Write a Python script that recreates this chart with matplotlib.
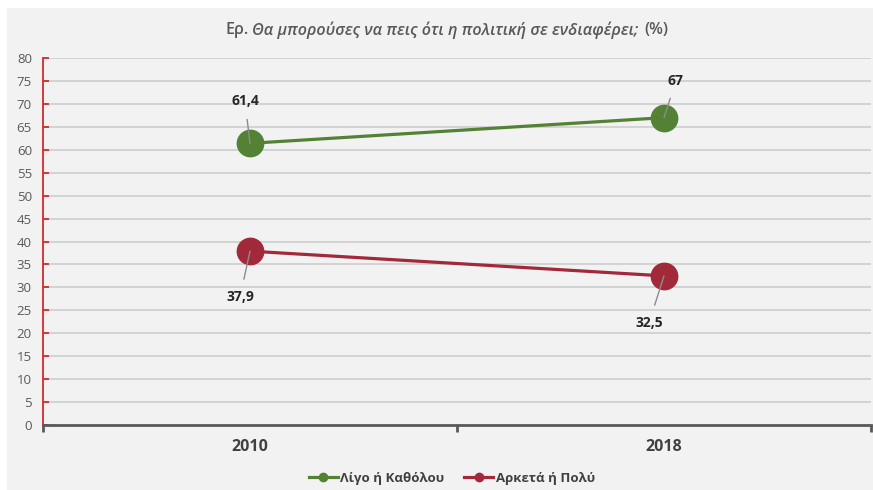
import matplotlib
matplotlib.use("Agg")
import matplotlib.pyplot as plt
from matplotlib.patches import Rectangle

plt.rcParams['font.family'] = ['Open Sans', 'DejaVu Sans']

years = ['2010', '2018']
ligo = [61.4, 67]
arketa = [37.9, 32.5]
ligo_lbl = ['61,4', '67']
arketa_lbl = ['37,9', '32,5']
series_names = ['Λίγο ή Καθόλου', 'Αρκετά ή Πολύ']

green = '#548235'
red = '#a2293a'
txt = '#595959'

W, H = 873, 490
fig = plt.figure(figsize=(W / 100, H / 100), dpi=100)
fig.patch.set_facecolor('white')
fig.patches.append(Rectangle((7 / W, 0), 1 - 7 / W, 1 - 8 / H, transform=fig.transFigure,
                             facecolor='#f2f2f2', edgecolor='none', zorder=-10))

ax = fig.add_axes([43 / W, 1 - 425 / H, (871 - 43) / W, (425 - 58) / H])
ax.set_facecolor('none')

x = list(range(len(years)))
l1, = ax.plot(x, ligo, color=green, lw=2.3, marker='o', ms=19, zorder=3, label=series_names[0])
l2, = ax.plot(x, arketa, color=red, lw=2.3, marker='o', ms=19, zorder=3, label=series_names[1])

ax.set_xlim(-0.5, 1.5)
ax.set_ylim(0, 80)
ax.set_yticks(range(0, 81, 5))
ax.grid(axis='y', color='#d0d0d0', lw=1.3, zorder=0)
ax.set_axisbelow(True)

for s in ['top', 'right']:
    ax.spines[s].set_visible(False)
ax.spines['left'].set_color('#d42b2b')
ax.spines['left'].set_linewidth(1.3)
ax.spines['bottom'].set_color('#595959')
ax.spines['bottom'].set_linewidth(2)
ax.spines['bottom'].set_zorder(4)

ax.tick_params(axis='y', direction='in', length=4, color='#d42b2b', width=1.3,
               labelsize=9.5, labelcolor=txt, pad=8)
ax.set_xticks([-0.5, 0.5, 1.5])
ax.set_xticklabels([])
ax.tick_params(axis='x', direction='out', length=5, color='#595959', width=2)
ax.set_xticks(x, minor=True)
ax.set_xticklabels(years, minor=True, fontsize=11.5, fontweight='bold', color='#404040')
ax.tick_params(axis='x', which='minor', length=0, pad=10)

# data labels with leader lines
offs_ligo = [(-5, 42), (12, 37)]
offs_ark = [(-10, -46), (-15, -47)]
for xi, v, lb, o in zip(x, ligo, ligo_lbl, offs_ligo):
    ax.annotate(lb, (xi, v), xytext=o, textcoords='offset pixels', ha='center', va='center',
                fontsize=10, fontweight='bold', color='#262626',
                arrowprops=dict(arrowstyle='-', color='#8c8c8c', lw=1, shrinkA=6, shrinkB=0))
for xi, v, lb, o in zip(x, arketa, arketa_lbl, offs_ark):
    ax.annotate(lb, (xi, v), xytext=o, textcoords='offset pixels', ha='center', va='center',
                fontsize=10, fontweight='bold', color='#262626',
                arrowprops=dict(arrowstyle='-', color='#8c8c8c', lw=1, shrinkA=6, shrinkB=0))

# legend
h1 = plt.Line2D([], [], color=green, lw=2.3, marker='o', ms=6)
h2 = plt.Line2D([], [], color=red, lw=2.3, marker='o', ms=6)
fig.legend([h1, h2], series_names, loc='center', bbox_to_anchor=(452 / W, 1 - 478 / H),
           ncol=2, frameon=False, prop={'size': 9.5, 'weight': 'bold'}, labelcolor='#404040',
           handlelength=2.2, handletextpad=0.2, columnspacing=1.5)

# title in three pieces (normal / italic / normal)
fig.canvas.draw()
r = fig.canvas.get_renderer()
ty = 1 - 30 / H
parts = [('Ερ.', 'normal', 4), ('Θα μπορούσες να πεις ότι η πολιτική σε ενδιαφέρει;', 'italic', 6), ('(%)', 'normal', 0)]
texts = []
for s, st, g in parts:
    t = fig.text(0, ty, s, fontsize=11.6, fontweight='semibold', style=st, color=txt,
                 va='center', ha='left')
    texts.append(t)
widths = [t.get_window_extent(r).width for t in texts]
gaps = [p[2] for p in parts]
total = sum(widths) + sum(gaps)
cur = 447 - total / 2
for t, w, g in zip(texts, widths, gaps):
    t.set_x(cur / W)
    cur += w + g

fig.savefig('out.png', dpi=100, facecolor='white')
